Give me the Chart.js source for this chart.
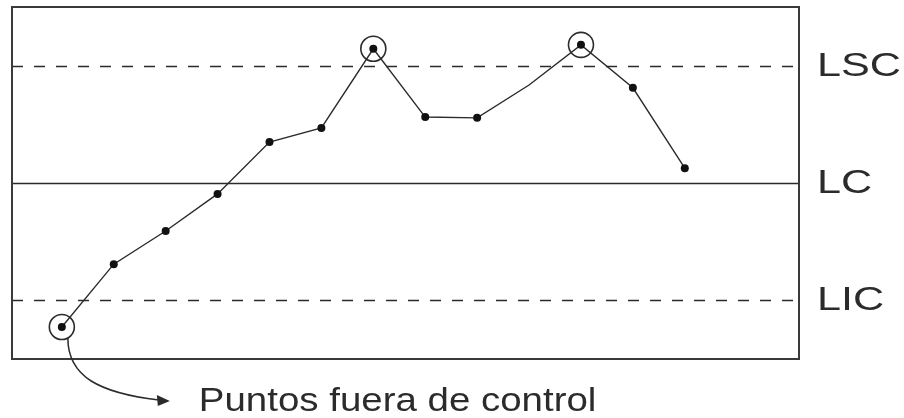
<!DOCTYPE html>
<html>
<head>
<meta charset="utf-8">
<script src="https://cdn.jsdelivr.net/npm/chart.js@4"></script>
<style>
  html, body { margin: 0; padding: 0; background: #fff; }
  #wrap { width: 904px; height: 418px; }
</style>
</head>
<body>
<div id="wrap"><canvas id="controlChart" width="904" height="418"></canvas></div>
<script>
// ---- data ----
const samples = [1, 2, 3, 4, 5, 6, 7, 8, 9, 10, 11, 12, 13];
const values = [-3.69, -2.08, -1.23, -0.28, 1.05, 1.41, 3.44, 1.69, 1.67, 2.51, 3.54, 2.44, 0.38];
const noDot = [10];            // sample drawn as a plain bend, no marker
const limitNames = ["LSC", "LC", "LIC"];
const limitValues = [3, 0, -3];
const note = "Puntos fuera de control";

const INK = "#2b2b2b";
const FONT = "'Liberation Sans', Arial, sans-serif";

const points = samples.map((s, i) => ({ x: s, y: values[i] }));
const outOfControl = points.filter(p => p.y > limitValues[0] || p.y < limitValues[2]);

// text in the scan is a bit wider than the font, stretch it sideways
function wideText(ctx, text, x, y, sx) {
    ctx.save();
    ctx.translate(x, y);
    ctx.scale(sx, 1);
    ctx.fillText(text, 0, 0);
    ctx.restore();
}

// box, control limits and their labels, arrow + note
const controlLines = {
    id: "controlLines",
    beforeDatasetsDraw(chart) {
        const { ctx, chartArea: a, scales: { y } } = chart;
        ctx.save();
        limitValues.forEach((v, i) => {
            const py = Math.round(y.getPixelForValue(v)) + 0.5;
            ctx.beginPath();
            ctx.strokeStyle = INK;
            ctx.lineWidth = 1.5;
            ctx.setLineDash(limitNames[i] === "LC" ? [] : [11, 11]);
            ctx.moveTo(a.left, py);
            ctx.lineTo(a.right, py);
            ctx.stroke();
        });
        ctx.setLineDash([]);
        ctx.lineWidth = 2;
        ctx.strokeStyle = "#3a3a3a";
        ctx.strokeRect(a.left, a.top, a.right - a.left, a.bottom - a.top);
        ctx.restore();
    },
    afterDraw(chart) {
        const { ctx, chartArea: a, scales: { x, y } } = chart;
        ctx.save();
        ctx.fillStyle = INK;
        ctx.font = "34px " + FONT;
        ctx.textBaseline = "middle";
        ctx.textAlign = "left";
        limitValues.forEach((v, i) => {
            wideText(ctx, limitNames[i], a.right + 18, y.getPixelForValue(v) + 1, 1.27);
        });

        // arrow from the lowest out-of-control point to the note
        const low = outOfControl.find(p => p.y < limitValues[2]);
        if (low) {
            const px = x.getPixelForValue(low.x);
            const py = y.getPixelForValue(low.y);
            ctx.strokeStyle = INK;
            ctx.lineWidth = 1.5;
            ctx.beginPath();
            ctx.moveTo(px + 6, py + 11);
            ctx.bezierCurveTo(px + 6, py + 50, px + 38, py + 66, px + 97, py + 73);
            ctx.stroke();
            const tx = px + 108, ty = py + 74;
            ctx.beginPath();
            ctx.moveTo(tx, ty);
            ctx.lineTo(tx - 13, ty - 6);
            ctx.lineTo(tx - 12, ty + 5);
            ctx.closePath();
            ctx.fill();

            ctx.font = "33px " + FONT;
            ctx.textBaseline = "alphabetic";
            wideText(ctx, note, tx + 29, 411, 1.165);
        }
        ctx.restore();
    }
};

new Chart(document.getElementById("controlChart"), {
    type: "line",
    data: {
        datasets: [
            {
                label: "Muestras",
                data: points,
                borderColor: INK,
                borderWidth: 1.4,
                backgroundColor: "#111",
                pointBackgroundColor: "#111",
                pointBorderWidth: 0,
                pointRadius: ctx => noDot.includes(samples[ctx.dataIndex]) ? 0 : 4,
                tension: 0
            },
            {
                label: "Fuera de control",
                data: outOfControl,
                showLine: false,
                pointRadius: 12.5,
                pointBorderWidth: 1.6,
                pointBorderColor: INK,
                pointBackgroundColor: "rgba(0,0,0,0)"
            }
        ]
    },
    options: {
        responsive: false,
        animation: false,
        layout: { autoPadding: false, padding: { left: 12, top: 7, right: 105, bottom: 59 } },
        plugins: {
            legend: { display: false },
            tooltip: { enabled: false }
        },
        scales: {
            x: { type: "linear", display: false, min: 0.04, max: 15.2 },
            y: { display: false, min: -4.51, max: 4.51 }
        }
    },
    plugins: [controlLines]
});
</script>
</body>
</html>
